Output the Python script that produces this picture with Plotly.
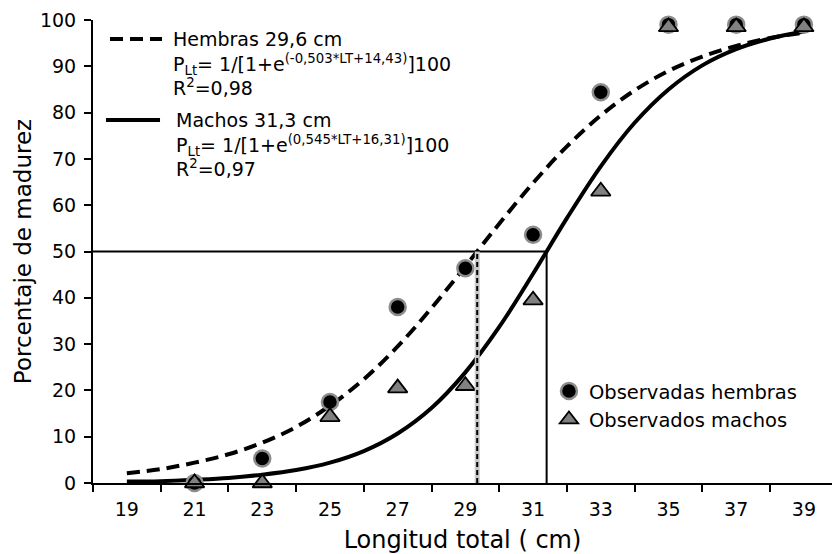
import plotly.graph_objects as go

# ---- data ----
lengths_obs = [21, 23, 25, 27, 29, 31, 33, 35, 37, 39]
obs_hembras = [0, 5.3, 17.5, 38.0, 46.4, 53.6, 84.4, 99.0, 99.0, 99.0]
obs_machos = [0, 0, 14.3, 20.5, 21.0, 39.5, 63.0, 98.5, 98.5, 98.5]

lengths_fit = [19, 20, 21, 22, 23, 24, 25, 26, 27, 28, 29, 30, 31, 32, 33, 34, 35, 36, 37, 38, 39]
fit_hembras = [2.1, 3.0, 4.4, 6.2, 8.7, 12.1, 16.7, 22.4, 29.5, 37.8, 46.8, 56.0, 64.8,
               72.7, 79.4, 84.8, 89.0, 92.1, 94.4, 96.1, 97.3]
fit_machos = [0.3, 0.4, 0.7, 1.1, 1.8, 2.8, 4.4, 6.9, 10.7, 16.2, 23.9, 33.7, 45.2,
              57.2, 68.4, 77.8, 85.0, 90.2, 93.7, 96.0, 97.5]

l50_hembras = 29.35
l50_machos = 31.4
x_tick_labels = [19, 21, 23, 25, 27, 29, 31, 33, 35, 37, 39]

texto_hembras = ("Hembras 29,6 cm<br>P<sub>Lt</sub>= 1/[1+e<sup>(-0,503*LT+14,43)</sup>]100"
                 "<br>R<sup>2</sup>=0,98")
texto_machos = ("Machos 31,3 cm<br>P<sub>Lt</sub>= 1/[1+e<sup>(0,545*LT+16,31)</sup>]100"
                "<br>R<sup>2</sup>=0,97")

FONT = "DejaVu Sans"

fig = go.Figure()

fig.add_trace(go.Scatter(x=lengths_fit, y=fit_hembras, mode="lines", line_shape="spline",
                         line=dict(color="black", width=4, dash="13px,7px"), showlegend=False))
fig.add_trace(go.Scatter(x=lengths_fit, y=fit_machos, mode="lines", line_shape="spline",
                         line=dict(color="black", width=4), showlegend=False))
fig.add_trace(go.Scatter(x=lengths_obs, y=obs_hembras, mode="markers", name="Observadas hembras",
                         cliponaxis=False,
                         marker=dict(symbol="circle", size=16, color="black",
                                     line=dict(color="#8c8c8c", width=2.5))))
fig.add_trace(go.Scatter(x=lengths_obs, y=obs_machos, mode="markers", name="Observados machos",
                         cliponaxis=False,
                         marker=dict(symbol="triangle-up", size=17, color="#808080",
                                     line=dict(color="black", width=1.8))))

# reference lines at 50 %
fig.add_shape(type="line", xref="x", yref="y", x0=18, x1=l50_machos, y0=50, y1=50,
              line=dict(color="black", width=2))
fig.add_shape(type="line", xref="x", yref="y", x0=l50_hembras, x1=l50_hembras, y0=0, y1=50,
              line=dict(color="#c8c8c8", width=5))
fig.add_shape(type="line", xref="x", yref="y", x0=l50_hembras, x1=l50_hembras, y0=0, y1=50,
              line=dict(color="black", width=2, dash="5px,3px"))
fig.add_shape(type="line", xref="x", yref="y", x0=l50_machos, x1=l50_machos, y0=0, y1=50,
              line=dict(color="black", width=2))

# top-left legend (model curves)
fig.add_shape(type="line", xref="paper", yref="paper", x0=0.023, x1=0.0934, y0=0.959, y1=0.959,
              line=dict(color="black", width=4, dash="13px,7px"))
fig.add_shape(type="line", xref="paper", yref="paper", x0=0.0176, x1=0.0907, y0=0.784, y1=0.784,
              line=dict(color="black", width=4))

fig.add_annotation(x=0.105, y=0.987, xref="paper", yref="paper", text=texto_hembras,
                   showarrow=False, xanchor="left", yanchor="top", align="left",
                   font=dict(family=FONT, size=19, color="black"))
fig.add_annotation(x=0.109, y=0.812, xref="paper", yref="paper", text=texto_machos,
                   showarrow=False, xanchor="left", yanchor="top", align="left",
                   font=dict(family=FONT, size=19, color="black"))

fig.update_layout(
    width=832, height=554,
    margin=dict(l=93, r=0, t=20, b=71),
    paper_bgcolor="white", plot_bgcolor="white",
    font=dict(family=FONT, size=19, color="black"),
    showlegend=True,
    legend=dict(x=0.617, y=0.24, xanchor="left", yanchor="top", bgcolor="rgba(0,0,0,0)",
                font=dict(family=FONT, size=19.5, color="black"), itemsizing="trace"),
    xaxis=dict(range=[18, 39.83], tickmode="array", tickvals=x_tick_labels,
               ticktext=[str(v) for v in x_tick_labels], ticks="", showgrid=False,
               ticklabelstandoff=8,
               zeroline=False, showline=True, linecolor="black", linewidth=2,
               minor=dict(tick0=18, dtick=2, ticks="outside", ticklen=7, tickwidth=2,
                          tickcolor="black", showgrid=False),
               title=dict(text="Longitud total ( cm)", font=dict(family=FONT, size=24), standoff=12)),
    yaxis=dict(range=[0, 100], dtick=10, ticks="outside", ticklen=7, tickwidth=2, tickcolor="black",
               ticklabelstandoff=4,
               showgrid=False, zeroline=False, showline=True, linecolor="black", linewidth=2,
               title=dict(text="Porcentaje de madurez", font=dict(family=FONT, size=23), standoff=2)),
)

fig.write_html("out.html")
